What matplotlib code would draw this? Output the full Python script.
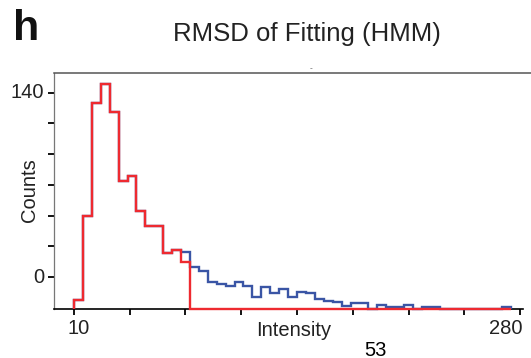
import numpy as np
import matplotlib
matplotlib.use("Agg")
import matplotlib.pyplot as plt
from matplotlib.lines import Line2D

plt.rcParams["font.family"] = ["Liberation Sans", "DejaVu Sans"]

W, H = 531, 358

# histogram bins (intensity)
BIN_START = 10.0
BIN_WIDTH = 5.4
N_BINS = 49
BASE = -24.0  # histogram baseline sits on the bottom spine

# bar tops in axis units (same scale as the 0 / 140 tick labels)
red_counts = [-17.2, 46.7, 132.4, 146.6, 125.4, 73.3, 76.8, 49.8, 38.4, 38.4,
              18.2, 20.5, 11.4] + [BASE] * 36
blue_counts = [-17.2, 46.7, 132.4, 146.6, 125.4, 73.3, 76.8, 49.8, 38.4, 38.4,
               18.2, 20.5, 18.7, 7.6, 4.3, -4.1, -5.6, -6.6, -4.1, -6.6,
               -14.9, -7.9, -12.4, -9.1, -14.9, -11.1, -12.4, -17.0, -18.2, -19.0,
               -21.8, -19.5, -19.5, BASE, -21.0, -23.0, -23.0, -21.0, BASE, -23.0,
               -23.0, BASE, BASE, BASE, BASE, BASE, BASE, BASE, -23.0]

x_ticks = [10, 43.75, 77.5, 111.25, 145, 178.75, 212.5, 246.25, 280]
y_ticks = [0, 23.33, 46.67, 70, 93.33, 116.67, 140]
x_labels = {10: "10", 280: "280"}
y_labels = {0: "0", 140: "140"}

edges = BIN_START + BIN_WIDTH * np.arange(N_BINS + 1)


def fx(px):
    return px / W


def fy(py):
    return 1 - py / H


fig = plt.figure(figsize=(W / 100, H / 100), dpi=100)
ax = fig.add_axes([fx(54), fy(309), (523 - 54) / W, (309 - 72.7) / H])

ax.stairs(blue_counts, edges, baseline=BASE, color="#3a55a5", lw=1.7,
          zorder=3, clip_on=False)
ax.stairs(red_counts, edges, baseline=BASE, color="#ee2a30", lw=1.7,
          zorder=4, clip_on=False)

ax.set_xlim(-2.1, 281.8)
ax.set_ylim(-24.3, 155.2)

ax.set_xticks(x_ticks)
ax.set_yticks(y_ticks)
ax.set_xticklabels([])
ax.set_yticklabels([])
ax.tick_params(direction="out", length=4.5, width=1.3, color="black")

ax.spines["right"].set_visible(False)
ax.spines["top"].set_visible(False)
ax.spines["left"].set_color("#777777")
ax.spines["left"].set_linewidth(0.9)
ax.spines["bottom"].set_color("black")
ax.spines["bottom"].set_linewidth(1.2)

# top frame line runs to the right edge of the figure
fig.add_artist(Line2D([fx(54), fx(531)], [fy(72.7), fy(72.7)],
                      color="#555555", lw=1.1))

# tick labels
for v, s in y_labels.items():
    ypx = 277.3 - v * 1.3187
    fig.text(fx(44.5), fy(ypx), s, ha="right", va="center", fontsize=14.5,
             color="#222222")
fig.text(fx(79), fy(334), x_labels[10], ha="center", va="baseline",
         fontsize=14.5, color="#222222")
fig.text(fx(505.5), fy(334), x_labels[280], ha="center", va="baseline",
         fontsize=14.5, color="#222222")

fig.text(fx(293.5), fy(336), "Intensity", ha="center", va="baseline",
         fontsize=14.5, color="#222222")
fig.text(fx(29.5), fy(190), "Counts", ha="center", va="center",
         rotation=90, fontsize=14.5, color="#222222")
fig.text(fx(375.5), fy(355.5), "53", ha="center", va="baseline",
         fontsize=14.5, color="black")

fig.text(fx(13), fy(40), "h", ha="left", va="baseline", fontsize=31,
         fontweight="bold", color="#111111")
fig.text(fx(307), fy(41), "RMSD of Fitting (HMM)", ha="center",
         va="baseline", fontsize=18.5, color="#222222")
fig.text(fx(311), fy(70), "-", ha="center", va="baseline", fontsize=6,
         color="#555555")

fig.savefig("out.png", dpi=100)
